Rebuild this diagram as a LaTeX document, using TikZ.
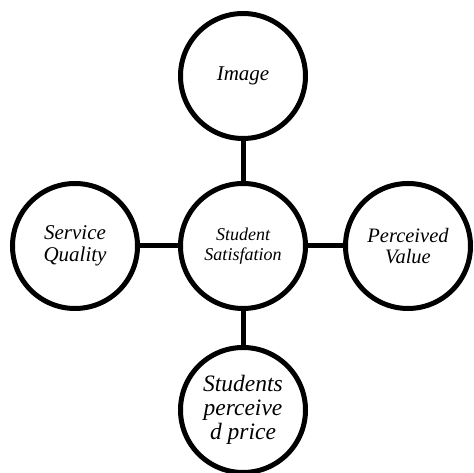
\documentclass[tikz,border=0pt]{standalone}
\usepackage{fontspec}
\setmainfont{Liberation Serif}
\begin{document}
\begin{tikzpicture}[x=1pt,y=1pt,
  bubble/.style={draw=black, line width=5pt, circle, minimum size=125pt, inner sep=0pt, align=center, fill=white},
  link/.style={draw=black, line width=5pt}]
\useasboundingbox[fill=white] (0,0) rectangle (474,473);
\node[bubble, font=\fontsize{21}{21.7}\selectfont\itshape] (img) at (243,397) {Image};
\node[bubble, font=\fontsize{18}{20}\selectfont\itshape] (mid) at (243,227) {Student\\Satisfation};
\node[bubble, font=\fontsize{21}{21.7}\selectfont\itshape] (svc) at (75,227) {Service\\Quality};
\node[bubble, font=\fontsize{20.5}{21.7}\selectfont\itshape] (val) at (408,227) {Perceived\\Value};
\node[bubble, font=\fontsize{23.5}{24}\selectfont\itshape] (price) at (243,63) {Students\\perceive\\d price};
\draw[link] (img) -- (mid);
\draw[link] (svc) -- (mid);
\draw[link] (mid) -- (val);
\draw[link] (mid) -- (price);
\end{tikzpicture}
\end{document}
